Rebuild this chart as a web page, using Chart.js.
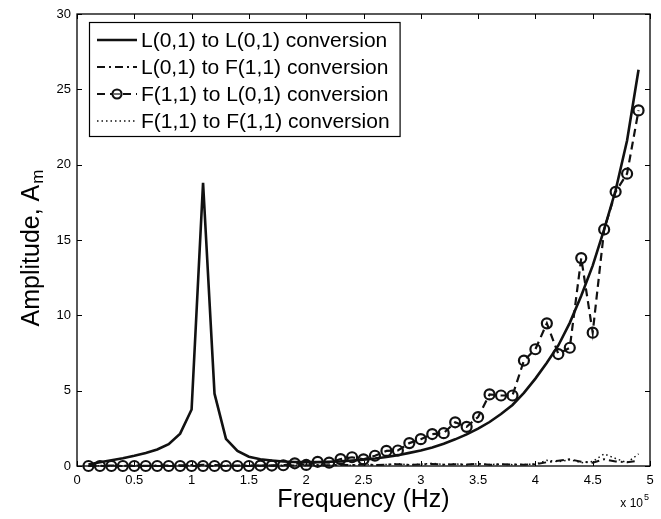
<!DOCTYPE html>
<html><head><meta charset="utf-8">
<script src="https://cdn.jsdelivr.net/npm/chart.js@4.4.0/dist/chart.umd.min.js"></script>
<style>html,body{margin:0;padding:0;background:#fff;}#wrap{width:661px;height:519px;}</style>
</head><body><div id="wrap"><canvas id="c" width="661" height="519"></canvas></div>
<script>
// ---- data (frequency in Hz) ----
const frequencyHz = [10000,20000,30000,40000,50000,60000,70000,80000,90000,100000,
  110000,120000,130000,140000,150000,160000,170000,180000,190000,200000,
  210000,220000,230000,240000,250000,260000,270000,280000,290000,300000,
  310000,320000,330000,340000,350000,360000,370000,380000,390000,400000,
  410000,420000,430000,440000,450000,460000,470000,480000,490000];

const seriesLabels = ['L(0,1) to L(0,1) conversion','L(0,1) to F(1,1) conversion',
  'F(1,1) to L(0,1) conversion','F(1,1) to F(1,1) conversion'];

const ampL01toL01 = [0.10,0.25,0.38,0.52,0.68,0.86,1.10,1.45,2.15,3.75,
  18.8,4.8,1.80,1.00,0.62,0.45,0.36,0.30,0.27,0.26,
  0.26,0.28,0.31,0.36,0.42,0.50,0.60,0.72,0.87,1.03,
  1.23,1.48,1.77,2.10,2.48,2.92,3.45,4.05,4.85,5.80,
  6.85,8.00,9.50,11.3,13.3,15.7,18.3,21.6,26.3];

const ampL01toF11 = [0.02,0.02,0.03,0.02,0.03,0.02,0.03,0.04,0.05,0.06,
  0.08,0.06,0.04,0.03,0.03,0.03,0.04,0.03,0.04,0.05,
  0.06,0.05,0.08,0.06,0.10,0.07,0.09,0.12,0.08,0.10,
  0.14,0.09,0.12,0.10,0.15,0.08,0.12,0.10,0.09,0.12,
  0.25,0.35,0.45,0.28,0.22,0.45,0.30,0.25,0.35,0.60];

const ampF11toL01 = [0,0,0,0,0,0,0,0,0,0,
  0,0,0,0,0,0.03,0.03,0.05,0.18,0.07,
  0.28,0.22,0.46,0.58,0.44,0.68,1.00,1.03,1.52,1.78,
  2.12,2.18,2.90,2.60,3.25,4.75,4.68,4.68,7.00,7.75,
  9.47,7.43,7.85,13.8,8.85,15.7,18.2,19.4,23.6];

const ampF11toF11 = [0.01,0.01,0.02,0.01,0.02,0.01,0.02,0.02,0.03,0.04,
  0.05,0.04,0.03,0.02,0.02,0.02,0.03,0.02,0.03,0.04,
  0.05,0.03,0.07,0.05,0.12,0.06,0.10,0.15,0.08,0.12,
  0.18,0.10,0.14,0.08,0.15,0.10,0.12,0.09,0.10,0.12,
  0.38,0.28,0.42,0.22,0.30,0.80,0.50,0.22,0.80];

const xMin = 0, xMax = 500000, xStep = 50000;
const yMin = 0, yMax = 30, yStep = 5;
const xTitle = 'Frequency (Hz)';
const yTitleMain = 'Amplitude, A';
const yTitleSub = 'm';
const xExponentBase = 'x 10';
const xExponent = '5';

// ---- build ----
const FONT = '"Liberation Sans", Arial, Helvetica, sans-serif';
Chart.defaults.font.family = FONT;
Chart.defaults.color = '#000';

const pts = arr => arr.map((v, i) => ({x: frequencyHz[i], y: v}));

const datasets = [
  {label: seriesLabels[0], data: pts(ampL01toL01), borderColor:'#111', borderWidth:2.6, borderDash:[], pointRadius:0, order:1},
  {label: seriesLabels[1], data: pts(ampL01toF11), borderColor:'#111', borderWidth:2, borderDash:[8,4,2,4], pointRadius:0, order:2},
  {label: seriesLabels[2], data: pts(ampF11toL01), borderColor:'#111', borderWidth:2.2, borderDash:[8,5], pointRadius:5, pointBorderWidth:2.2, pointBorderColor:'#111', pointBackgroundColor:'rgba(0,0,0,0)', pointStyle:'circle', order:0},
  {label: seriesLabels[3], data: pts(ampF11toF11), borderColor:'#111', borderWidth:1.5, borderDash:[1.5,3], pointRadius:0, order:3}
];
datasets.forEach(d => { d.fill = false; d.tension = 0; d.clip = false; d.backgroundColor = 'rgba(0,0,0,0)'; });

const decor = {
  id: 'decor',
  beforeDatasetsDraw(chart) {
    const {ctx, chartArea: a, scales: {x, y}} = chart;
    ctx.save();
    ctx.strokeStyle = '#000'; ctx.lineWidth = 1.3; ctx.setLineDash([]);
    ctx.strokeRect(a.left, a.top, a.right - a.left, a.bottom - a.top);
    const tl = 5;
    ctx.beginPath();
    x.ticks.forEach(t => {
      const p = Math.round(x.getPixelForValue(t.value)) + 0.5;
      ctx.moveTo(p, a.bottom); ctx.lineTo(p, a.bottom - tl);
      ctx.moveTo(p, a.top); ctx.lineTo(p, a.top + tl);
    });
    y.ticks.forEach(t => {
      const p = Math.round(y.getPixelForValue(t.value)) + 0.5;
      ctx.moveTo(a.left, p); ctx.lineTo(a.left + tl, p);
      ctx.moveTo(a.right, p); ctx.lineTo(a.right - tl, p);
    });
    ctx.lineWidth = 1;
    ctx.stroke();
    ctx.restore();
  },
  afterDatasetsDraw(chart) {
    const {ctx, chartArea: a} = chart;
    ctx.save();
    // legend box
    const fs = 21;
    ctx.font = fs + 'px ' + FONT;
    const ds = chart.data.datasets;
    let maxW = 0;
    ds.forEach(d => { maxW = Math.max(maxW, ctx.measureText(d.label).width); });
    const bx = a.left + 12, by = a.top + 8;
    const bw = 52 + maxW + 10, bh = 114;
    ctx.fillStyle = '#fff';
    ctx.fillRect(bx, by, bw, bh);
    ctx.strokeStyle = '#000'; ctx.lineWidth = 1.2; ctx.setLineDash([]);
    ctx.strokeRect(bx + 0.5, by + 0.5, bw, bh);
    ds.forEach((d, i) => {
      const cy = by + 18 + i * 27;
      ctx.save();
      ctx.strokeStyle = d.borderColor; ctx.lineWidth = d.borderWidth;
      ctx.setLineDash(d.borderDash || []);
      ctx.beginPath(); ctx.moveTo(bx + 8, cy); ctx.lineTo(bx + 48, cy); ctx.stroke();
      if (d.pointRadius > 0) {
        ctx.setLineDash([]);
        ctx.fillStyle = '#fff';
        ctx.beginPath(); ctx.arc(bx + 28, cy, d.pointRadius - 0.5, 0, Math.PI * 2);
        ctx.fill();
        ctx.lineWidth = d.pointBorderWidth; ctx.stroke();
        ctx.lineWidth = 1.2;
        ctx.beginPath(); ctx.moveTo(bx + 25, cy); ctx.lineTo(bx + 31, cy); ctx.stroke();
      }
      ctx.restore();
      ctx.fillStyle = '#000';
      ctx.textBaseline = 'middle'; ctx.textAlign = 'left';
      ctx.fillText(d.label, bx + 52, cy + 1);
    });
    // y title with subscript
    const yf = 25, sf = 17;
    ctx.font = yf + 'px ' + FONT;
    const w1 = ctx.measureText(yTitleMain).width;
    ctx.font = sf + 'px ' + FONT;
    const w2 = ctx.measureText(yTitleSub).width;
    const total = w1 + 1 + w2;
    const midY = (a.top + a.bottom) / 2 + 8;
    ctx.translate(39, midY + total / 2);
    ctx.rotate(-Math.PI / 2);
    ctx.textAlign = 'left'; ctx.textBaseline = 'alphabetic';
    ctx.font = yf + 'px ' + FONT;
    ctx.fillText(yTitleMain, 0, 0);
    ctx.font = sf + 'px ' + FONT;
    ctx.fillText(yTitleSub, w1 + 1, 4);
    ctx.setTransform(1, 0, 0, 1, 0, 0);
    // x exponent label
    ctx.font = '12px ' + FONT;
    ctx.textAlign = 'right'; ctx.textBaseline = 'alphabetic';
    ctx.fillText(xExponentBase, a.right - 7, 507);
    ctx.font = '9px ' + FONT;
    ctx.textAlign = 'left';
    ctx.fillText(xExponent, a.right - 6, 500);
    ctx.restore();
  }
};

new Chart(document.getElementById('c'), {
  type: 'line',
  data: {datasets},
  options: {
    responsive: false,
    animation: false,
    devicePixelRatio: 1,
    layout: {padding: {left: 0, right: 11, top: 14, bottom: 0}},
    plugins: {legend: {display: false}, tooltip: {enabled: false}},
    scales: {
      x: {
        type: 'linear', min: xMin, max: xMax,
        grid: {display: false, drawTicks: false},
        border: {display: false},
        ticks: {stepSize: xStep, padding: 7, maxRotation: 0, autoSkip: false,
          font: {size: 13},
          callback: v => String(Math.round(v / 10000) / 10)},
        title: {display: true, text: xTitle, font: {size: 25}, padding: {top: 0, bottom: 4}},
        afterFit: s => { s.height = 53; }
      },
      y: {
        type: 'linear', min: yMin, max: yMax,
        grid: {display: false, drawTicks: false},
        border: {display: false},
        ticks: {stepSize: yStep, padding: 6, font: {size: 13}},
        afterFit: s => { s.width = 77; }
      }
    }
  },
  plugins: [decor]
});
</script></body></html>
